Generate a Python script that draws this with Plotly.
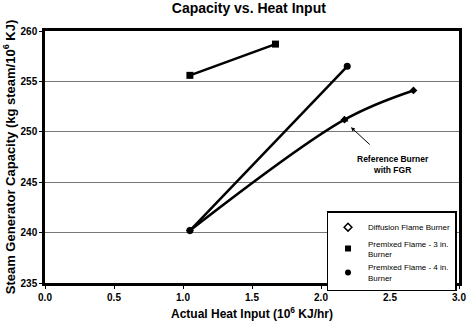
import plotly.graph_objects as go

# Data
diff_x = [1.05, 2.17, 2.67]
diff_y = [240.2, 251.2, 254.1]
pre3_x = [1.05, 1.67]
pre3_y = [255.6, 258.7]
pre4_x = [1.05, 2.19]
pre4_y = [240.2, 256.5]
ref_x = [2.17]
ref_y = [251.2]

x_ticks = [0.0, 0.5, 1.0, 1.5, 2.0, 2.5, 3.0]
y_ticks = [235, 240, 245, 250, 255, 260]

FONT = "Liberation Sans, Arial, sans-serif"

fig = go.Figure()
fig.add_trace(go.Scatter(
    x=diff_x, y=diff_y, mode="lines+markers", showlegend=False,
    line=dict(color="black", width=2.5, shape="spline"),
    marker=dict(symbol="diamond", size=6, color="black")))
fig.add_trace(go.Scatter(
    x=pre3_x, y=pre3_y, mode="lines+markers", showlegend=False,
    line=dict(color="black", width=2.5),
    marker=dict(symbol="square", size=7, color="black")))
fig.add_trace(go.Scatter(
    x=pre4_x, y=pre4_y, mode="lines+markers", showlegend=False,
    line=dict(color="black", width=2.5),
    marker=dict(symbol="circle", size=7, color="black")))
fig.add_trace(go.Scatter(
    x=ref_x, y=ref_y, mode="markers", showlegend=False,
    marker=dict(symbol="triangle-up", size=7, color="black")))

# legend entries (markers only, as in the reference legend)
fig.add_trace(go.Scatter(x=[None], y=[None], mode="markers", name="Diffusion Flame Burner",
    marker=dict(symbol="diamond-open", size=6, color="black", line=dict(width=1.5, color="black"))))
fig.add_trace(go.Scatter(x=[None], y=[None], mode="markers", name="Premixed Flame - 3 in.<br>Burner",
    marker=dict(symbol="square", size=6, color="black")))
fig.add_trace(go.Scatter(x=[None], y=[None], mode="markers", name="Premixed Flame - 4 in.<br>Burner",
    marker=dict(symbol="circle", size=6, color="black")))

fig.add_annotation(
    x=2.217, y=250.45, ax=2.364, ay=248.6, xref="x", yref="y", axref="x", ayref="y",
    text="", showarrow=True, arrowhead=2, arrowsize=0.8, arrowwidth=1, arrowcolor="black")
fig.add_annotation(
    x=2.52, y=246.8, xref="x", yref="y", showarrow=False,
    text="<b>Reference Burner<br>with FGR</b>", font=dict(family=FONT, size=8.5, color="black"),
    align="center")

fig.update_layout(
    width=474, height=327,
    margin=dict(l=45, r=8, t=31, b=43),
    paper_bgcolor="white", plot_bgcolor="white",
    font=dict(family=FONT, size=10, color="black"),
    title=dict(text="<b>Capacity vs. Heat Input</b>", x=0.525, xanchor="center",
               y=0.99, yanchor="top", font=dict(family=FONT, size=14, color="black")),
    legend=dict(x=0.68, y=0.285, xanchor="left", yanchor="top",
                bgcolor="white", bordercolor="black", borderwidth=1.5,
                font=dict(family=FONT, size=8, color="black"),
                tracegroupgap=0, itemwidth=30),
    showlegend=True,
)
fig.update_xaxes(
    range=[0, 3.0], tickvals=x_ticks, ticktext=[f"<b>{v:.1f}</b>" for v in x_ticks],
    showgrid=False, zeroline=False, showline=True, linecolor="black", linewidth=2.5,
    mirror=True, ticks="outside", ticklen=3, tickcolor="black",
    title=dict(text="<b>Actual Heat Input (10<sup>6</sup> KJ/hr)</b>", font=dict(family=FONT, size=12), standoff=8),
    tickfont=dict(family=FONT, size=10))
fig.update_yaxes(
    range=[235, 260], tickvals=y_ticks, ticktext=[f"<b>{v}</b>" for v in y_ticks],
    showgrid=True, gridcolor="#777777", gridwidth=1, zeroline=False,
    showline=True, linecolor="black", linewidth=2.5, mirror=True,
    ticks="outside", ticklen=3, tickcolor="black",
    title=dict(text="<b>Steam Generator Capacity (kg steam/10<sup>6</sup> KJ)</b>", font=dict(family=FONT, size=13), standoff=3),
    tickfont=dict(family=FONT, size=10))

fig.write_html("out.html")
